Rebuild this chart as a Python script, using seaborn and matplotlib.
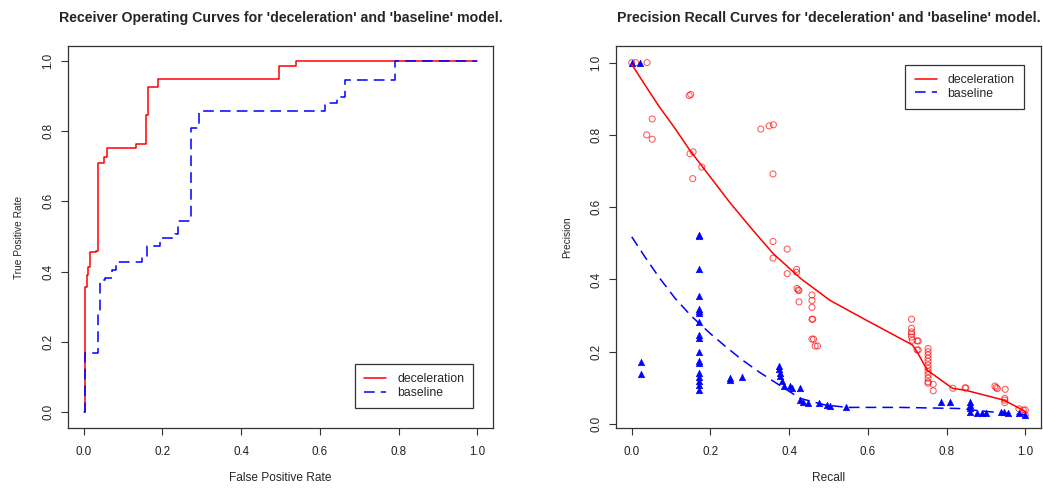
import matplotlib
matplotlib.use("Agg")
import matplotlib.pyplot as plt
import seaborn as sns
import numpy as np

# ---------------- data ----------------
# ROC step curves (points where the curve steps)
roc_decel_fpr = [0.0, 0.003, 0.0085, 0.011, 0.017, 0.031, 0.036, 0.051, 0.059, 0.134, 0.159, 0.164, 0.188, 0.496, 0.54, 1.0]
roc_decel_tpr = [0.0, 0.357, 0.39, 0.414, 0.455, 0.46, 0.709, 0.726, 0.751, 0.763, 0.846, 0.924, 0.949, 0.984, 1.0, 1.0]

roc_base_fpr = [0.0, 0.0034, 0.036, 0.041, 0.055, 0.072, 0.083, 0.148, 0.161, 0.193, 0.233, 0.239, 0.273, 0.292, 0.612, 0.644, 0.663, 0.792, 1.0]
roc_base_tpr = [0.0, 0.167, 0.281, 0.376, 0.381, 0.405, 0.426, 0.438, 0.473, 0.495, 0.507, 0.545, 0.808, 0.858, 0.881, 0.897, 0.946, 1.0, 1.0]

# Precision-recall points
pr_decel_recall = [0.0, 0.01, 0.039, 0.146, 0.150, 0.052, 0.038, 0.052, 0.148, 0.156, 0.178, 0.155,
                   0.328, 0.349, 0.360, 0.359, 0.359, 0.359, 0.395, 0.395, 0.419, 0.419,
                   0.420, 0.423, 0.425, 0.425, 0.458, 0.458, 0.458, 0.458, 0.460, 0.458, 0.462,
                   0.466, 0.472, 0.711, 0.711, 0.711, 0.711, 0.711, 0.713, 0.725, 0.728, 0.725, 0.728,
                   0.753, 0.753, 0.753, 0.753, 0.753, 0.753, 0.753, 0.753, 0.753, 0.753, 0.753, 0.753,
                   0.766, 0.766, 0.816, 0.847, 0.849, 0.923, 0.926, 0.929, 0.949, 0.948, 0.948, 0.948,
                   0.984, 0.995, 1.0, 1.0]
pr_decel_precision = [1.0, 1.0, 1.0, 0.909, 0.912, 0.844, 0.80, 0.788, 0.748, 0.753, 0.711, 0.679,
                      0.816, 0.825, 0.828, 0.692, 0.505, 0.459, 0.484, 0.416, 0.428, 0.420,
                      0.375, 0.371, 0.369, 0.338, 0.357, 0.342, 0.323, 0.290, 0.290, 0.235, 0.235,
                      0.216, 0.216, 0.290, 0.265, 0.255, 0.241, 0.249, 0.232, 0.230, 0.230, 0.205, 0.205,
                      0.209, 0.200, 0.191, 0.182, 0.173, 0.163, 0.154, 0.145, 0.136, 0.127, 0.117, 0.113,
                      0.110, 0.092, 0.099, 0.100, 0.100, 0.105, 0.101, 0.098, 0.096, 0.071, 0.066, 0.059,
                      0.042, 0.039, 0.039, 0.025]

pr_base_recall = [0.0, 0.022, 0.023, 0.023,
                  0.171, 0.171, 0.171, 0.171, 0.171, 0.171, 0.171, 0.171, 0.171,
                  0.171, 0.171, 0.171, 0.171, 0.171, 0.171, 0.171, 0.171, 0.171,
                  0.25, 0.25, 0.281, 0.375, 0.375, 0.376, 0.377, 0.381, 0.386, 0.403, 0.407,
                  0.428, 0.428, 0.436, 0.449, 0.475, 0.496, 0.504, 0.544, 0.785, 0.808,
                  0.859, 0.859, 0.859, 0.859, 0.878, 0.891, 0.899, 0.938, 0.946, 0.955, 0.984, 1.0]
pr_base_precision = [1.0, 1.0, 0.171, 0.138,
                     0.522, 0.519, 0.428, 0.354, 0.319, 0.313, 0.308, 0.283, 0.246,
                     0.237, 0.198, 0.175, 0.169, 0.140, 0.131, 0.120, 0.108, 0.094,
                     0.126, 0.122, 0.131, 0.160, 0.151, 0.142, 0.133, 0.120, 0.104, 0.104, 0.099,
                     0.099, 0.066, 0.062, 0.059, 0.057, 0.053, 0.050, 0.046, 0.062, 0.062,
                     0.062, 0.053, 0.044, 0.034, 0.031, 0.031, 0.031, 0.034, 0.034, 0.030, 0.031, 0.025]

# Smoothed PR curves
pr_decel_fit_recall = [0.0, 0.035, 0.07, 0.11, 0.148, 0.2, 0.25, 0.305, 0.36, 0.43, 0.504, 0.6, 0.713, 0.725, 0.751, 0.815, 0.85, 0.946, 1.0]
pr_decel_fit_precision = [0.995, 0.936, 0.878, 0.818, 0.757, 0.683, 0.612, 0.540, 0.471, 0.402, 0.342, 0.285, 0.219, 0.2, 0.149, 0.099, 0.093, 0.066, 0.035]
pr_base_fit_recall = [0.0, 0.035, 0.07, 0.11, 0.152, 0.199, 0.24, 0.28, 0.325, 0.369, 0.428, 0.49, 0.547, 0.68, 0.83, 0.9, 1.0]
pr_base_fit_precision = [0.518, 0.460, 0.405, 0.348, 0.298, 0.251, 0.213, 0.178, 0.143, 0.112, 0.071, 0.053, 0.046, 0.046, 0.043, 0.035, 0.025]

series_labels = ["deceleration", "baseline"]
ticks = [0.0, 0.2, 0.4, 0.6, 0.8, 1.0]
tick_labels = ["0.0", "0.2", "0.4", "0.6", "0.8", "1.0"]

# ---------------- style ----------------
sns.set_style("ticks")
plt.rcParams["font.family"] = ["Liberation Sans", "DejaVu Sans"]
plt.rcParams["axes.linewidth"] = 0.9
plt.rcParams["axes.edgecolor"] = "#333333"

RED = "#FF0000"
BLUE = "#0000FF"
DASH = (7, 4)

fig = plt.figure(figsize=(10.43, 4.92), dpi=100)
ax1 = fig.add_axes([68 / 1043, 1 - 428 / 492, 425 / 1043, 382 / 492])
ax2 = fig.add_axes([616 / 1043, 1 - 428 / 492, 425 / 1043, 382 / 492])

legend_kw = dict(fontsize=8.8, frameon=True, fancybox=False, edgecolor="#333333", framealpha=1,
                 handlelength=1.8, borderpad=0.75, labelspacing=0.12, handletextpad=0.9,
                 borderaxespad=0)

# ---------------- ROC ----------------
sns.lineplot(x=roc_decel_fpr, y=roc_decel_tpr, ax=ax1, color=RED, lw=1.1,
             drawstyle="steps-post", estimator=None, sort=False, label=series_labels[0])
sns.lineplot(x=roc_base_fpr, y=roc_base_tpr, ax=ax1, color=BLUE, lw=1.1,
             drawstyle="steps-post", estimator=None, sort=False, label=series_labels[1],
             linestyle=(0, DASH))
ax1.set_xlim(-0.04, 1.04)
ax1.set_ylim(-0.045, 1.042)
ax1.set_title("Receiver Operating Curves for 'deceleration' and 'baseline' model.",
              fontsize=10.2, fontweight="bold", pad=17)
ax1.set_xlabel("False Positive Rate", fontsize=8.6, labelpad=10)
ax1.set_ylabel("True Positive Rate", fontsize=7.3, labelpad=13)
leg1 = ax1.legend(loc="upper left", bbox_to_anchor=(0.675, 0.167), **legend_kw)
leg1.get_frame().set_linewidth(0.9)

# ---------------- PR ----------------
sns.scatterplot(x=pr_decel_recall, y=pr_decel_precision, ax=ax2, marker="o", s=19,
                facecolor="none", edgecolor=RED, linewidth=0.7, alpha=0.7, legend=False)
sns.scatterplot(x=pr_base_recall, y=pr_base_precision, ax=ax2, marker="^", s=22,
                color=BLUE, edgecolor=BLUE, linewidth=0.4, legend=False)
sns.lineplot(x=pr_decel_fit_recall, y=pr_decel_fit_precision, ax=ax2, color=RED, lw=1.1,
             estimator=None, sort=False, label=series_labels[0])
sns.lineplot(x=pr_base_fit_recall, y=pr_base_fit_precision, ax=ax2, color=BLUE, lw=1.1,
             estimator=None, sort=False, label=series_labels[1], linestyle=(0, DASH))
ax2.set_xlim(-0.04, 1.04)
ax2.set_ylim(-0.011, 1.046)
ax2.set_title("Precision Recall Curves for 'deceleration' and 'baseline' model.",
              fontsize=10.2, fontweight="bold", pad=17)
ax2.set_xlabel("Recall", fontsize=8.6, labelpad=10)
ax2.set_ylabel("Precision", fontsize=7.3, labelpad=13)
leg2 = ax2.legend(loc="upper left", bbox_to_anchor=(0.681, 0.950), **legend_kw)
leg2.get_frame().set_linewidth(0.9)

for ax in (ax1, ax2):
    ax.set_xticks(ticks)
    ax.set_xticklabels(tick_labels)
    ax.set_yticks(ticks)
    ax.set_yticklabels(tick_labels, rotation=90, va="center")
    ax.tick_params(axis="both", direction="out", length=5, width=0.8, labelsize=8.4,
                   colors="#333333", labelcolor="#222222")
    ax.tick_params(axis="x", pad=8)
    ax.tick_params(axis="y", pad=5)
    for sp in ax.spines.values():
        sp.set_visible(True)

fig.savefig("out.png", dpi=100)
